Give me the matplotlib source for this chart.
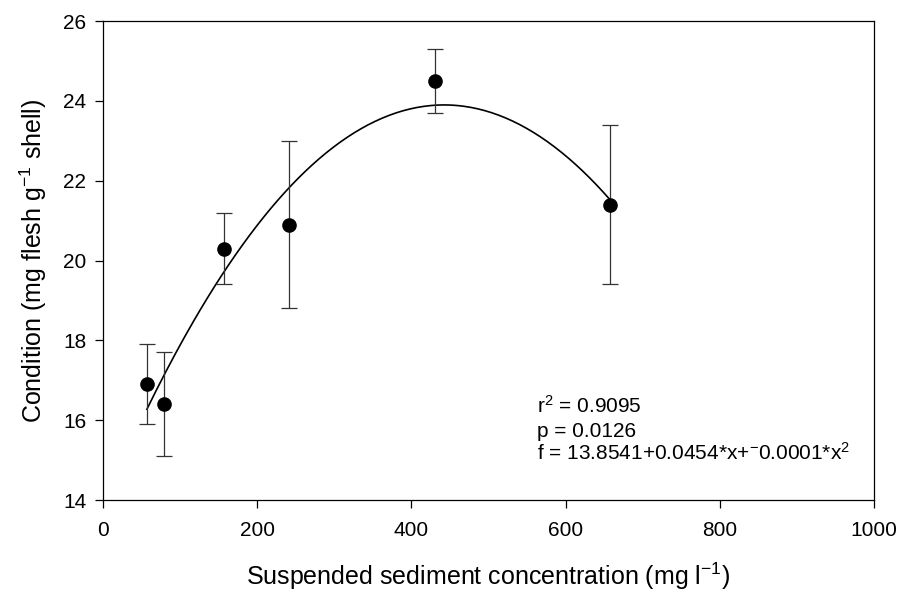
import numpy as np
import matplotlib
matplotlib.use('Agg')
import matplotlib.pyplot as plt

plt.rcParams['font.family'] = ['Liberation Sans', 'DejaVu Sans']
plt.rcParams['mathtext.fontset'] = 'custom'
plt.rcParams['mathtext.rm'] = 'Liberation Sans'
plt.rcParams['mathtext.it'] = 'Liberation Sans:italic'

# data
sediment = [57, 79, 157, 241, 431, 658]
condition = [16.9, 16.4, 20.3, 20.9, 24.5, 21.4]
err_upper = [17.9, 17.7, 21.2, 23.0, 25.3, 23.4]
err_lower = [15.9, 15.1, 19.4, 18.8, 23.7, 19.4]

# quadratic fit f = a + b*x + c*x^2 (c shown rounded as -0.0001)
fit_coef = [13.8541, 0.0454, -0.0000513]
stats_text = ['r$^2$ = 0.9095', 'p = 0.0126',
              'f = 13.8541+0.0454*x+$^{-}$0.0001*x$^2$']

x = np.array(sediment)
y = np.array(condition)
yerr = [y - np.array(err_lower), np.array(err_upper) - y]

fig = plt.figure(figsize=(9, 5.92), dpi=100)
ax = fig.add_axes([0.1144, 0.1554, 0.8567, 0.809])

xx = np.linspace(x.min(), x.max(), 200)
yy = fit_coef[0] + fit_coef[1] * xx + fit_coef[2] * xx ** 2
ax.plot(xx, yy, color='black', lw=1.2)

ax.errorbar(x, y, yerr=yerr, fmt='o', color='black', ms=9.5,
            ecolor='#333333', elinewidth=0.9, capsize=6, capthick=0.9)

ax.set_xlim(0, 1000)
ax.set_ylim(14, 26)
ax.set_xticks(range(0, 1001, 200))
ax.set_yticks(range(14, 27, 2))
ax.tick_params(direction='out', length=6, width=0.9, labelsize=15)
ax.tick_params(axis='x', pad=9)
ax.tick_params(axis='y', pad=6)
for s in ax.spines.values():
    s.set_linewidth(0.9)

ax.set_xlabel(r'Suspended sediment concentration (mg l$^{-1}$)', fontsize=18, labelpad=15)
ax.set_ylabel(r'Condition (mg flesh g$^{-1}$ shell)', fontsize=18, labelpad=10)

# one line at a time, baselines
for i, line in enumerate(stats_text):
    ax.text(563, 16.175 - 0.59 * i, line, fontsize=15, va='baseline')

fig.savefig('out.png', dpi=100)
